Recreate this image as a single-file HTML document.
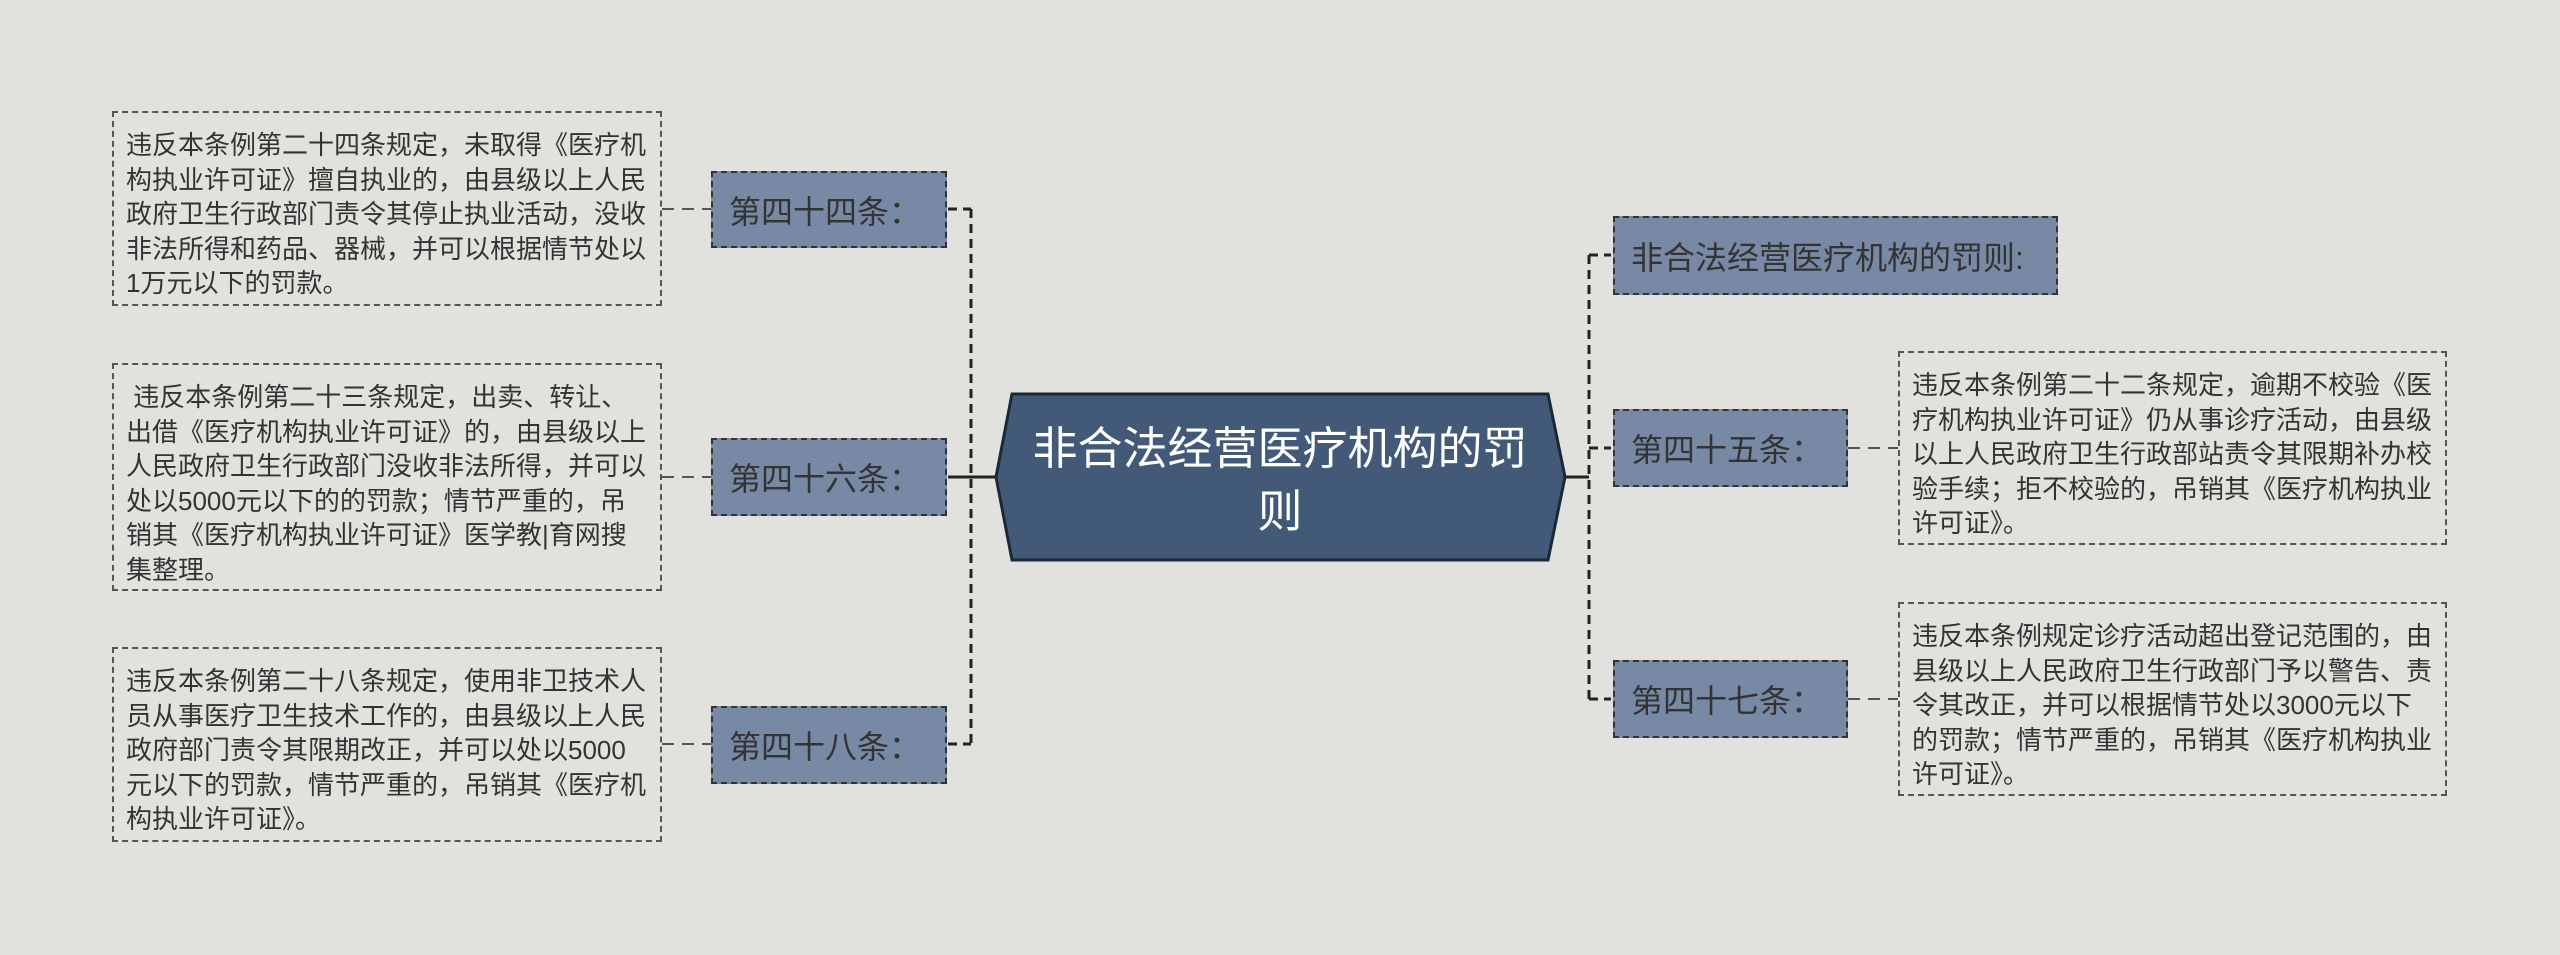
<!DOCTYPE html>
<html><head><meta charset="utf-8"><style>
body{margin:0;width:2560px;height:955px;background:#e1e2dd;position:relative;overflow:hidden;font-family:"Liberation Sans","Noto Sans CJK SC",sans-serif;color:#333}
.t{position:absolute;border:2px dashed #555;box-sizing:border-box;padding:15px 12px 0 12px;font-size:26px;line-height:34.5px;}
.n{position:absolute;background:#7789a5;border:2px dashed #333;box-sizing:border-box;font-size:32px;display:flex;align-items:center;padding-left:16px;color:#333}
svg{position:absolute;left:0;top:0}
</style></head><body>
<svg width="2560" height="955">
<g stroke="#222" stroke-width="3" stroke-dasharray="9,6" fill="none">
<path d="M971 209 V744"/>
<path d="M948 209 H971 M948 744 H971"/>
<path d="M1589 255 V699"/>
<path d="M1589 255 H1611 M1589 448 H1611 M1589 699 H1611"/>
</g>
<g stroke="#555" stroke-width="2" stroke-dasharray="12,8" fill="none">
<path d="M662 209 H711 M662 477 H711 M662 744 H711"/>
<path d="M1848 448 H1898 M1848 699 H1898"/>
</g>
<path d="M948 477 H996 M1565 477 H1589" stroke="#222" stroke-width="3"/>
<polygon points="1012,394 1548,394 1565,477 1548,560 1012,560 996,477" fill="#425a78" stroke="#1b2838" stroke-width="3"/>
<text x="1280" y="464" font-size="45" fill="#fff" text-anchor="middle" font-family="Liberation Sans,Noto Sans CJK SC,sans-serif">非合法经营医疗机构的罚</text>
<text x="1280" y="527" font-size="45" fill="#fff" text-anchor="middle" font-family="Liberation Sans,Noto Sans CJK SC,sans-serif">则</text>
</svg>
<div class="t" style="left:112px;top:111px;width:550px;height:195px">违反本条例第二十四条规定，未取得《医疗机构执业许可证》擅自执业的，由县级以上人民政府卫生行政部门责令其停止执业活动，没收非法所得和药品、器械，并可以根据情节处以1万元以下的罚款。</div>
<div class="t" style="left:112px;top:363px;width:550px;height:228px">&nbsp;违反本条例第二十三条规定，出卖、转让、出借《医疗机构执业许可证》的，由县级以上人民政府卫生行政部门没收非法所得，并可以处以5000元以下的的罚款；情节严重的，吊销其《医疗机构执业许可证》医学教|育网搜集整理。</div>
<div class="t" style="left:112px;top:647px;width:550px;height:195px">违反本条例第二十八条规定，使用非卫技术人员从事医疗卫生技术工作的，由县级以上人民政府部门责令其限期改正，并可以处以5000元以下的罚款，情节严重的，吊销其《医疗机构执业许可证》。</div>
<div class="n" style="left:711px;top:171px;width:236px;height:77px">第四十四条：</div>
<div class="n" style="left:711px;top:438px;width:236px;height:78px">第四十六条：</div>
<div class="n" style="left:711px;top:706px;width:236px;height:78px">第四十八条：</div>
<div class="n" style="left:1613px;top:216px;width:445px;height:79px">非合法经营医疗机构的罚则:</div>
<div class="n" style="left:1613px;top:409px;width:235px;height:78px">第四十五条：</div>
<div class="n" style="left:1613px;top:660px;width:235px;height:78px">第四十七条：</div>
<div class="t" style="left:1898px;top:351px;width:549px;height:194px">违反本条例第二十二条规定，逾期不校验《医疗机构执业许可证》仍从事诊疗活动，由县级以上人民政府卫生行政部站责令其限期补办校验手续；拒不校验的，吊销其《医疗机构执业许可证》。</div>
<div class="t" style="left:1898px;top:602px;width:549px;height:194px">违反本条例规定诊疗活动超出登记范围的，由县级以上人民政府卫生行政部门予以警告、责令其改正，并可以根据情节处以3000元以下的罚款；情节严重的，吊销其《医疗机构执业许可证》。</div>
</body></html>
